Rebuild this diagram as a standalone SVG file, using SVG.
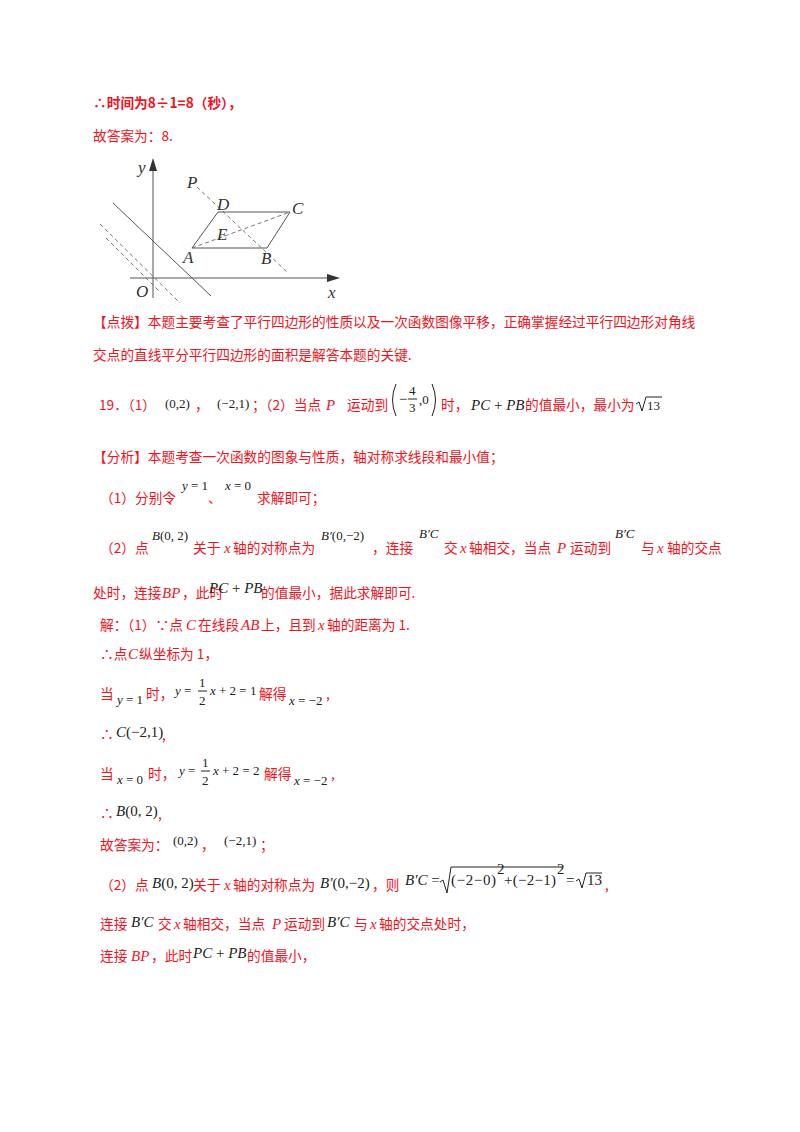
<svg xmlns="http://www.w3.org/2000/svg" width="800" height="1132" viewBox="0 0 800 1132">
<style>
.t{font-family:"Noto Sans CJK SC","Liberation Sans",sans-serif;font-size:13.7px;fill:#f0141e}
.m{font-family:"Liberation Serif",serif;font-size:15px;fill:#222}
.r{font-family:"Liberation Serif",serif;font-size:15px;fill:#f0141e;font-style:italic}
.i{font-style:italic}
.s{font-size:13px}
.f{font-family:"Liberation Serif",serif;font-style:italic;font-size:17px;fill:#333}
.ln{stroke:#555;stroke-width:1;fill:none}
.d{stroke:#666;stroke-width:0.9;stroke-dasharray:4 3;fill:none}
.k{stroke:#222;stroke-width:1;fill:none}
</style>
<rect width="800" height="1132" fill="#fff"/>
<text class="t" x="93" y="108" font-weight="bold">∴时间为8÷1=8（秒），</text>
<text class="t" x="93" y="141">故答案为：8.</text>
<g id="figure">
<line class="ln" x1="153" y1="298" x2="153" y2="168" stroke-width="1.3"/>
<polygon points="153,158 149,171 157,171" fill="#333"/>
<line class="ln" x1="130" y1="278" x2="330" y2="278" stroke-width="1.3"/>
<polygon points="340,278 327,274 327,282" fill="#333"/>
<line class="ln" x1="113" y1="203" x2="211" y2="296"/>
<line class="d" x1="100" y1="224" x2="180" y2="303"/>
<line class="d" x1="106" y1="238" x2="160" y2="292"/>
<line class="d" x1="197" y1="187" x2="287" y2="272"/>
<polygon class="ln" points="218,212 290,212 267,248 192,248" stroke-width="1.2"/>
<line class="d" x1="192" y1="248" x2="290" y2="212"/>
<text class="f" x="138" y="173">y</text>
<text class="f" x="136" y="297">O</text>
<text class="f" x="328" y="298">x</text>
<text class="f" x="187" y="188">P</text>
<text class="f" x="217" y="210">D</text>
<text class="f" x="292" y="214">C</text>
<text class="f" x="217" y="240">E</text>
<text class="f" x="183" y="263">A</text>
<text class="f" x="261" y="264">B</text>
</g>
<text class="t" x="93" y="327">【点拨】本题主要考查了平行四边形的性质以及一次函数图像平移，正确掌握经过平行四边形对角线</text>
<text class="t" x="93" y="360">交点的直线平分平行四边形的面积是解答本题的关键.</text>

<text class="t" x="99" y="410">19．（1）</text>
<text class="m s" x="165" y="408">(0,2)</text>
<text class="t" x="195" y="410">，</text>
<text class="m s" x="217" y="408">(−2,1)</text>
<text class="t" x="252" y="410">；（2）当点</text>
<text class="r" x="326" y="410">P</text>
<text class="t" x="347" y="410">运动到</text>
<path class="k" d="M396 384 Q389 400 396 416"/>
<path class="k" d="M432 384 Q439 400 432 416"/>
<text class="m" x="399" y="404">−</text>
<text class="m s" x="409" y="395">4</text>
<line x1="408" y1="399" x2="417" y2="399" stroke="#222"/>
<text class="m s" x="409" y="412">3</text>
<text class="m s" x="419" y="404">,0</text>
<text class="t" x="441" y="410">时，</text>
<text class="m" x="471" y="410"><tspan class="i">PC</tspan> + <tspan class="i">PB</tspan></text>
<text class="t" x="525" y="410">的值最小，最小为</text>
<path class="k" d="M636 404 L639 402 L642 411 L646 397 L662 397"/>
<text class="m s" x="647" y="410">13</text>

<text class="t" x="93" y="462">【分析】本题考查一次函数的图象与性质，轴对称求线段和最小值；</text>
<text class="t" x="100" y="503">（1）分别令</text>
<text class="m s" x="182" y="490"><tspan class="i">y</tspan> = 1</text>
<text class="t" x="208" y="503">、</text>
<text class="m s" x="225" y="490"><tspan class="i">x</tspan> = 0</text>
<text class="t" x="257" y="503">求解即可；</text>

<text class="t" x="100" y="553">（2）点</text>
<text class="m s" x="152" y="540"><tspan class="i">B</tspan>(0, 2)</text>
<text class="t" x="193" y="553">关于</text>
<text class="r" x="224" y="553">x</text>
<text class="t" x="233" y="553">轴的对称点为</text>
<text class="m s" x="321" y="540"><tspan class="i">B′</tspan>(0,−2)</text>
<text class="t" x="372" y="553">，连接</text>
<text class="m s i" x="419" y="538">B′C</text>
<text class="t" x="444" y="553">交</text>
<text class="r" x="460" y="553">x</text>
<text class="t" x="469" y="553">轴相交，当点</text>
<text class="r" x="557" y="553">P</text>
<text class="t" x="570" y="553">运动到</text>
<text class="m s i" x="615" y="538">B′C</text>
<text class="t" x="641" y="553">与</text>
<text class="r" x="657" y="553">x</text>
<text class="t" x="667" y="553">轴的交点</text>
<text class="t" x="93" y="598">处时，连接</text>
<text class="r" x="162" y="598">BP</text>
<text class="t" x="182" y="598">，此时</text>
<text class="m" x="209" y="593"><tspan class="i">PC</tspan> + <tspan class="i">PB</tspan></text>
<text class="t" x="261" y="598">的值最小，据此求解即可.</text>

<text class="t" x="100" y="630">解：（1）∵点</text>
<text class="r" x="186" y="630">C</text>
<text class="t" x="198" y="630">在线段</text>
<text class="r" x="241" y="630">AB</text>
<text class="t" x="261" y="630">上，且到</text>
<text class="r" x="318" y="630">x</text>
<text class="t" x="327" y="630">轴的距离为 1.</text>
<text class="t" x="100" y="659">∴点</text>
<text class="r" x="128" y="659">C</text>
<text class="t" x="139" y="659">纵坐标为 1，</text>

<text class="t" x="100" y="699">当</text>
<text class="m s" x="117" y="704"><tspan class="i">y</tspan> = 1</text>
<text class="t" x="146" y="699">时，</text>
<text class="m s" x="175" y="695"><tspan class="i">y</tspan> =</text>
<text class="m s" x="199" y="687">1</text>
<line x1="198" y1="691" x2="207" y2="691" stroke="#222"/>
<text class="m s" x="199" y="705">2</text>
<text class="m s" x="210" y="695"><tspan class="i">x</tspan> + 2 = 1</text>
<text class="t" x="259" y="699">解得</text>
<text class="m s" x="289" y="705"><tspan class="i">x</tspan> = −2</text>
<text class="t" x="326" y="699">,</text>

<text class="t" x="100" y="739">∴</text>
<text class="m" x="116" y="737"><tspan class="i">C</tspan>(−2,1)</text>
<text class="t" x="162" y="740">,</text>

<text class="t" x="100" y="779">当</text>
<text class="m s" x="117" y="784"><tspan class="i">x</tspan> = 0</text>
<text class="t" x="148" y="779">时，</text>
<text class="m s" x="179" y="775"><tspan class="i">y</tspan> =</text>
<text class="m s" x="202" y="767">1</text>
<line x1="201" y1="771" x2="210" y2="771" stroke="#222"/>
<text class="m s" x="202" y="785">2</text>
<text class="m s" x="213" y="775"><tspan class="i">x</tspan> + 2 = 2</text>
<text class="t" x="264" y="779">解得</text>
<text class="m s" x="294" y="785"><tspan class="i">x</tspan> = −2</text>
<text class="t" x="331" y="779">,</text>

<text class="t" x="100" y="818">∴</text>
<text class="m" x="116" y="816"><tspan class="i">B</tspan>(0, 2)</text>
<text class="t" x="158" y="819">,</text>

<text class="t" x="100" y="850">故答案为：</text>
<text class="m s" x="173" y="845">(0,2)</text>
<text class="t" x="201" y="850">，</text>
<text class="m s" x="224" y="845">(−2,1)</text>
<text class="t" x="260" y="850">；</text>

<text class="t" x="100" y="890">（2）点</text>
<text class="m" x="152" y="888"><tspan class="i">B</tspan>(0, 2)</text>
<text class="t" x="193" y="890">关于</text>
<text class="r" x="224" y="890">x</text>
<text class="t" x="233" y="890">轴的对称点为</text>
<text class="m" x="320" y="888"><tspan class="i">B′</tspan>(0,−2)</text>
<text class="t" x="372" y="890">，则</text>
<text class="m" x="405" y="885"><tspan class="i">B′C</tspan> =</text>
<path class="k" d="M440 882 L443 880 L447 893 L451 867 L563 867"/>
<text class="m" x="451" y="885" textLength="45">(−2−0)</text>
<text class="m" x="497" y="874" font-size="8">2</text>
<text class="m" x="504" y="885" textLength="52">+(−2−1)</text>
<text class="m" x="557" y="874" font-size="8">2</text>
<text class="m" x="566" y="885">=</text>
<path class="k" d="M576 881 L579 879 L582 888 L586 873 L602 873"/>
<text class="m" x="587" y="885">13</text>
<text class="t" x="605" y="890">,</text>

<text class="t" x="100" y="929">连接</text>
<text class="m i" x="131" y="927">B′C</text>
<text class="t" x="158" y="929">交</text>
<text class="r" x="174" y="929">x</text>
<text class="t" x="183" y="929">轴相交，当点</text>
<text class="r" x="272" y="929">P</text>
<text class="t" x="284" y="929">运动到</text>
<text class="m i" x="327" y="927">B′C</text>
<text class="t" x="354" y="929">与</text>
<text class="r" x="370" y="929">x</text>
<text class="t" x="379" y="929">轴的交点处时，</text>
<text class="t" x="100" y="961">连接</text>
<text class="r" x="131" y="961">BP</text>
<text class="t" x="151" y="961">，此时</text>
<text class="m" x="193" y="958"><tspan class="i">PC</tspan> + <tspan class="i">PB</tspan></text>
<text class="t" x="247" y="961">的值最小，</text>
</svg>
